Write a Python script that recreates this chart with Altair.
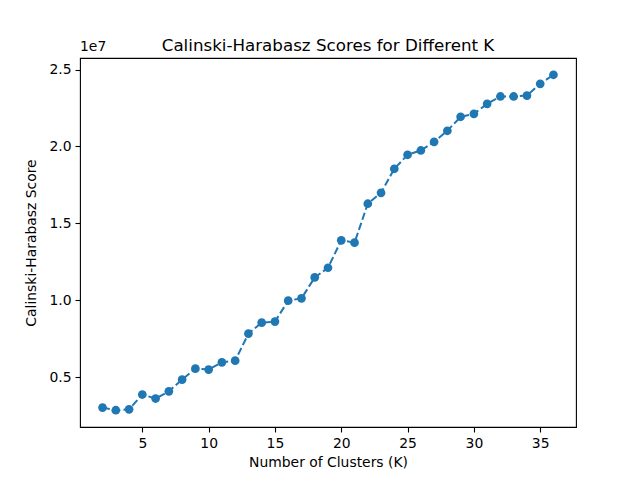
import altair as alt
import pandas as pd

# Number of clusters
k_values = list(range(2, 37))
# Calinski-Harabasz scores, in units of 1e7
scores_1e7 = [0.303, 0.286, 0.292, 0.388, 0.362, 0.409, 0.485, 0.556, 0.550, 0.597,
              0.608, 0.784, 0.855, 0.862, 0.998, 1.013, 1.149, 1.212, 1.390, 1.375,
              1.628, 1.699, 1.855, 1.946, 1.974, 2.030, 2.102, 2.193, 2.212, 2.277,
              2.325, 2.325, 2.331, 2.407, 2.466]
x_ticks = [5, 10, 15, 20, 25, 30, 35]
y_ticks = [0.5, 1.0, 1.5, 2.0, 2.5]

df = pd.DataFrame({"K": k_values, "Score": scores_1e7})

FONT = "DejaVu Sans"
BLUE = "#1f77b4"

x = alt.X("K:Q", scale=alt.Scale(domain=[0.3, 37.7], nice=False, zero=False),
          axis=alt.Axis(values=x_ticks, title="Number of Clusters (K)", format="d"))
y = alt.Y("Score:Q", scale=alt.Scale(domain=[0.177, 2.575], nice=False, zero=False),
          axis=alt.Axis(values=y_ticks, title="Calinski-Harabasz Score", format=".1f"))

base = alt.Chart(df)
line = base.mark_line(color=BLUE, strokeWidth=2, strokeDash=[7.4, 3.2]).encode(x=x, y=y)
pts = base.mark_point(filled=True, shape="circle", size=76, color=BLUE, opacity=1).encode(x=x, y=y)
offset_label = alt.Chart(pd.DataFrame({"t": ["1e7"]})).mark_text(
    align="left", baseline="bottom", font=FONT, fontSize=13.9, color="black"
).encode(x=alt.value(0), y=alt.value(-4), text="t:N")

chart = alt.layer(line, pts, offset_label).properties(
    width=496, height=369,
    title=alt.TitleParams("Calinski-Harabasz Scores for Different K", font=FONT,
                          fontSize=16.7, fontWeight="normal", color="black",
                          anchor="middle", offset=-15),
    autosize=alt.AutoSizeParams(type="none"),
    padding={"left": 72, "top": 50, "right": 56, "bottom": 45},
).configure_view(
    stroke="black", strokeWidth=1.1
).configure_axis(
    grid=False, domain=False, ticks=True, tickColor="black", tickSize=5, tickWidth=1.1,
    labelFont=FONT, labelFontSize=13.9, labelColor="black", labelPadding=4,
    titleFont=FONT, titleFontSize=13.9, titleFontWeight="normal", titleColor="black",
).configure_axisX(titlePadding=6).configure_axisY(titlePadding=10)

chart.save("out.html", embed_options={"renderer": "svg", "actions": False})
